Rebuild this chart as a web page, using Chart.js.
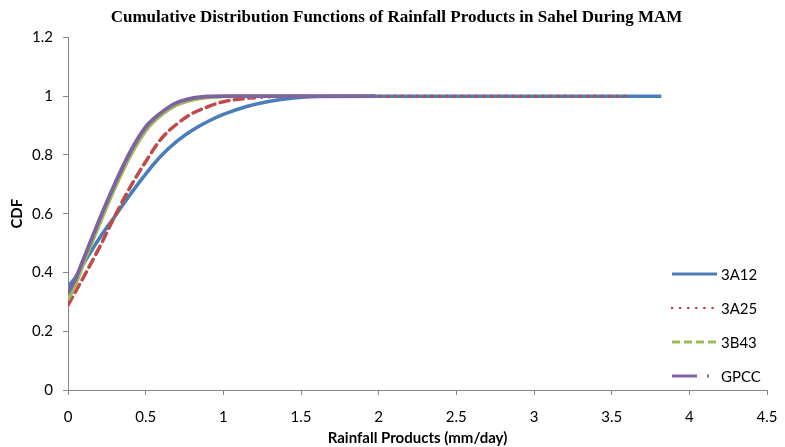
<!DOCTYPE html>
<html>
<head>
<meta charset="utf-8">
<title>CDF of Rainfall Products - Sahel MAM</title>
<script src="https://cdn.jsdelivr.net/npm/chart.js@4.4.0/dist/chart.umd.min.js"></script>
<style>
  html, body { margin: 0; padding: 0; background: #fff; }
  canvas { display: block; }
</style>
</head>
<body>
<canvas id="cdfChart" width="785" height="447"></canvas>
<script>
// Rainfall (mm/day) and cumulative probability for each product
const rain3A12 = [0, 0.05, 0.1, 0.2, 0.3, 0.4, 0.5, 0.6, 0.7, 0.8, 0.9, 1.0, 1.15, 1.3, 1.45, 1.6, 2.0, 3.82];
const cdf3A12 = [0.351, 0.385, 0.43, 0.515, 0.59, 0.665, 0.735, 0.797, 0.846, 0.884, 0.914, 0.938, 0.965, 0.983, 0.994, 0.999, 1, 1];

const rain3A25 = [0, 0.1, 0.2, 0.3, 0.4, 0.5, 0.6, 0.7, 0.8, 0.9, 1.0, 1.2, 1.4, 1.6, 2.0, 3.6];
const cdf3A25 = [0.289, 0.384, 0.483, 0.59, 0.69, 0.777, 0.855, 0.905, 0.941, 0.964, 0.981, 0.995, 0.999, 1, 1, 1];

const rain3B43 = [0, 0.05, 0.1, 0.2, 0.3, 0.4, 0.5, 0.6, 0.7, 0.8, 0.9, 1.0, 1.2, 1.57];
const cdf3B43 = [0.306, 0.36, 0.43, 0.56, 0.685, 0.795, 0.882, 0.935, 0.97, 0.987, 0.995, 0.999, 1, 1];

const rainGPCC = [0, 0.05, 0.1, 0.2, 0.3, 0.4, 0.5, 0.6, 0.7, 0.8, 0.9, 1.0, 1.3, 1.98];
const cdfGPCC = [0.33, 0.38, 0.446, 0.577, 0.70, 0.81, 0.895, 0.944, 0.978, 0.993, 0.999, 1, 1, 1];

const seriesNames = ["3A12", "3A25", "3B43", "GPCC"];
const xTickLabels = ["0", "0.5", "1", "1.5", "2", "2.5", "3", "3.5", "4", "4.5"];
const yTickLabels = ["0", "0.2", "0.4", "0.6", "0.8", "1", "1.2"];

const toPoints = (xs, ys) => xs.map((x, i) => ({ x: x, y: ys[i] }));

const colors = ["#4a7ebb", "#be4b48", "#9bbb59", "#7f63a1"];
// legend swatch styles (Excel-like dash types)
const legendDash = [[], [0.1, 8], [8, 4], [25, 10, 2, 10]];
const legendCap = ["butt", "round", "butt", "butt"];

Chart.defaults.font.family = "Lato, 'Open Sans', sans-serif";
Chart.defaults.color = "#000";

// draws the legend inside the plot, bottom right
const sideLegend = {
  id: "sideLegend",
  afterLayout(chart) {
    // title sits centred over the plot area rather than the canvas
    const t = chart.titleBlock;
    if (t) {
      t.left += 13;
      t.right += 13;
    }
  },
  afterDraw(chart) {
    const ctx = chart.ctx;
    chart.data.datasets.forEach((ds, i) => {
      const y = 274 + i * 34;
      ctx.save();
      ctx.strokeStyle = ds.borderColor;
      ctx.lineWidth = i === 1 ? 2.6 : 3;
      ctx.lineCap = legendCap[i];
      ctx.setLineDash(legendDash[i]);
      ctx.beginPath();
      ctx.moveTo(672, y);
      ctx.lineTo(717, y);
      ctx.stroke();
      ctx.setLineDash([]);
      ctx.fillStyle = "#000";
      ctx.font = "15px Lato, 'Open Sans', sans-serif";
      ctx.textBaseline = "middle";
      ctx.fillText(ds.label, 721, y + 1);
      ctx.restore();
    });
  }
};

// 3A25 reads as long dashes on the steep part, dots on the plateau
const redDash = (c) => (c.p0.parsed.x < 1.1 ? [9, 5.5] : [0.1, 7.3]);

const ctx = document.getElementById("cdfChart").getContext("2d");

new Chart(ctx, {
  type: "line",
  data: {
    datasets: [
      {
        label: seriesNames[0],
        data: toPoints(rain3A12, cdf3A12),
        borderColor: colors[0],
        borderWidth: 3.5,
        order: 3
      },
      {
        label: seriesNames[1],
        data: toPoints(rain3A25, cdf3A25),
        borderColor: colors[1],
        borderWidth: 3.5,
        borderDash: [0.1, 7.3],
        borderCapStyle: "round",
        segment: { borderDash: redDash },
        order: 2
      },
      {
        label: seriesNames[2],
        data: toPoints(rain3B43, cdf3B43),
        borderColor: colors[2],
        borderWidth: 3.5,
        order: 1
      },
      {
        label: seriesNames[3],
        data: toPoints(rainGPCC, cdfGPCC),
        borderColor: colors[3],
        borderWidth: 3.8,
        order: 0
      }
    ]
  },
  options: {
    responsive: false,
    animation: false,
    layout: { padding: { left: 0, right: 18, top: 0, bottom: 0 } },
    elements: {
      point: { radius: 0 },
      line: { cubicInterpolationMode: "monotone", fill: false }
    },
    plugins: {
      legend: { display: false },
      tooltip: { enabled: false },
      title: {
        display: true,
        text: "Cumulative Distribution Functions of Rainfall Products in Sahel During MAM",
        font: { family: "'Liberation Serif', 'DejaVu Serif', serif", size: 17, weight: "bold" },
        color: "#000",
        padding: { top: 7, bottom: 10 }
      }
    },
    scales: {
      x: {
        type: "linear",
        min: 0,
        max: 4.5,
        afterFit: (scale) => {
          scale.height = 57;
          scale.paddingRight = 0;
        },
        ticks: {
          stepSize: 0.5,
          padding: 13,
          font: { size: 15 },
          maxRotation: 0,
          callback: (value, index) => xTickLabels[index]
        },
        grid: {
          drawOnChartArea: false,
          drawTicks: true,
          tickLength: 5,
          color: "#868686"
        },
        border: { color: "#868686", width: 1 },
        title: {
          display: true,
          text: "Rainfall Products (mm/day)",
          font: { size: 15, weight: "bold" },
          padding: { top: 0, bottom: 0 }
        }
      },
      y: {
        min: 0,
        max: 1.2,
        afterFit: (scale) => { scale.width = 68; },
        ticks: {
          stepSize: 0.2,
          padding: 10,
          font: { size: 15 },
          callback: (value, index) => yTickLabels[index]
        },
        grid: {
          drawOnChartArea: false,
          drawTicks: true,
          tickLength: 5,
          color: "#868686"
        },
        border: { color: "#868686", width: 1 },
        title: {
          display: true,
          text: "CDF",
          font: { size: 15, weight: "bold" },
          padding: { top: 8, bottom: 0 }
        }
      }
    }
  },
  plugins: [sideLegend]
});
</script>
</body>
</html>
